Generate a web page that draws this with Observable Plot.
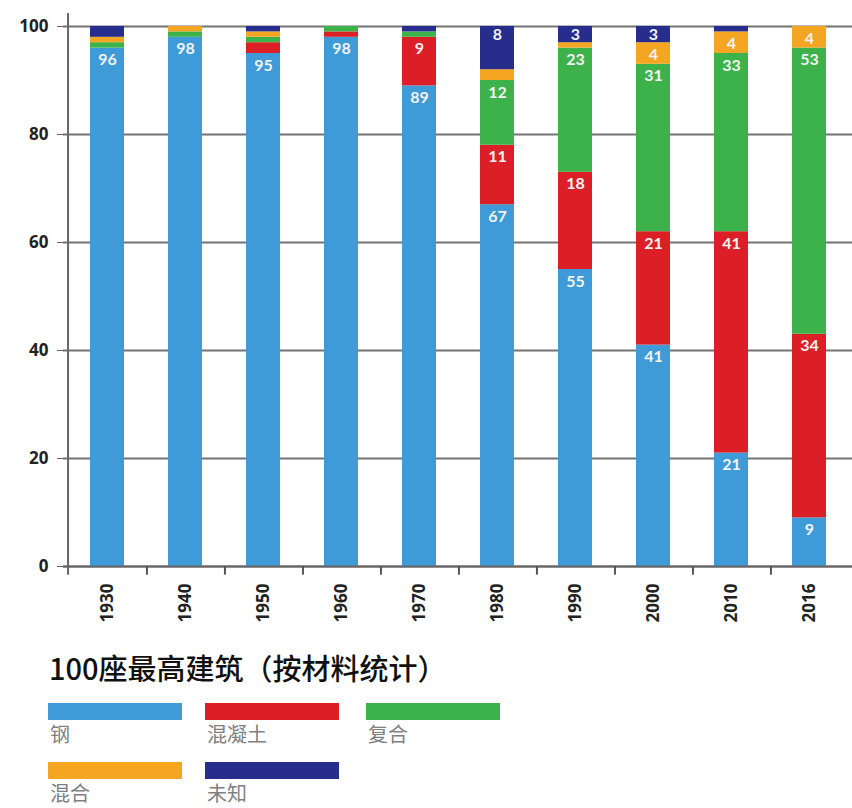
<!DOCTYPE html>
<html>
<head>
<meta charset="utf-8">
<script src="https://cdn.jsdelivr.net/npm/d3@7"></script>
<script src="https://cdn.jsdelivr.net/npm/@observablehq/plot@0.6"></script>
<style>
  body { margin: 0; background: #fff; }
  #wrap { position: relative; width: 852px; height: 808px; overflow: hidden; }
  #wrap svg { position: absolute; left: 0; top: 0; }
  .title { position: absolute; left: 49px; top: 647px; font-family: "Noto Sans CJK SC", sans-serif; font-size: 29px; font-weight: 500; color: #111; line-height: 40px; white-space: nowrap; }
  .sw { position: absolute; width: 134px; height: 17px; }
  .lab { position: absolute; font-family: "Noto Sans CJK SC", sans-serif; font-size: 20px; color: #808080; line-height: 22px; white-space: nowrap; }
</style>
</head>
<body>
<div id="wrap"></div>
<script>
const years = ["1930", "1940", "1950", "1960", "1970", "1980", "1990", "2000", "2010", "2016"];
const materials = ["钢", "混凝土", "复合", "混合", "未知"];
const colors = ["#3f9bd7", "#dc1f27", "#3db24a", "#f4a522", "#262d8d"];
const steel     = [96, 98, 95, 98, 89, 67, 55, 41, 21, 9];
const concrete  = [0, 0, 2, 1, 9, 11, 18, 21, 41, 34];
const composite = [1, 1, 1, 1, 1, 12, 23, 31, 33, 53];
const mixed     = [1, 1, 1, 0, 0, 2, 1, 4, 4, 4];
const unknown   = [2, 0, 1, 0, 1, 8, 3, 3, 1, 0];
const yTicks = [0, 20, 40, 60, 80, 100];
const titleText = "100座最高建筑（按材料统计）";

const series = [steel, concrete, composite, mixed, unknown];
const rows = [];
years.forEach((yr, i) => {
  materials.forEach((m, j) => rows.push({year: yr, material: m, value: series[j][i]}));
});

const W = 852, ML = 63, MR = 0;
const halfStep = (W - ML - MR) / years.length / 2;
const topMaterial = materials[materials.length - 1];

const labelMark = (pred, dy) => Plot.text(rows, Plot.stackY2({
  x: "year", y: "value", z: "material",
  text: d => (pred(d) && d.value >= 3) ? String(d.value) : null,
  dy, fill: "#f3f3f3", fontSize: 16, fontWeight: "bold", fontFamily: "Lato, sans-serif"
}));

const chart = Plot.plot({
  width: W,
  height: 632,
  marginLeft: ML,
  marginRight: MR,
  marginTop: 26,
  marginBottom: 66,
  style: {fontFamily: "'Open Sans', sans-serif", background: "transparent", color: "#222"},
  x: {domain: years, paddingInner: 0.57, paddingOuter: 0.285, label: null},
  y: {domain: [0, 100], label: null},
  color: {domain: materials, range: colors},
  marks: [
    Plot.gridY({ticks: yTicks, stroke: "#737373", strokeOpacity: 1, strokeWidth: 2}),
    Plot.barY(rows, {x: "year", y: "value", fill: "material"}),
    labelMark(d => d.material !== topMaterial, 12),
    labelMark(d => d.material === topMaterial, 8),
    Plot.ruleY([0], {stroke: "#666", strokeWidth: 2}),
    Plot.ruleX(years.slice(0, 1), {dx: -halfStep, y1: -1.6, y2: 102.4, stroke: "#666", strokeWidth: 2}),
    Plot.ruleX(years.slice(0, -1), {dx: halfStep, y1: 0, y2: -1.6, stroke: "#555", strokeWidth: 2}),
    Plot.axisY({ticks: yTicks, tickSize: 6, tickPadding: 9, fontSize: 17, fontWeight: "bold", stroke: "#666", fill: "#222", label: null}),
    Plot.axisX({tickSize: 0, tickPadding: 17, tickRotate: -90, textAnchor: "end", fontSize: 17, fontWeight: "bold", fill: "#222", label: null})
  ]
});

const wrap = document.getElementById("wrap");
wrap.appendChild(chart);

const t = document.createElement("div");
t.className = "title";
t.textContent = titleText;
wrap.appendChild(t);

const legendPos = [[48, 703], [205, 703], [366, 703], [48, 762], [205, 762]];
materials.forEach((m, i) => {
  const [lx, ly] = legendPos[i];
  const s = document.createElement("div");
  s.className = "sw";
  s.style.left = lx + "px";
  s.style.top = ly + "px";
  s.style.background = colors[i];
  wrap.appendChild(s);
  const l = document.createElement("div");
  l.className = "lab";
  l.style.left = (lx + 2) + "px";
  l.style.top = (ly + 20) + "px";
  l.textContent = m;
  wrap.appendChild(l);
});
</script>
</body>
</html>
